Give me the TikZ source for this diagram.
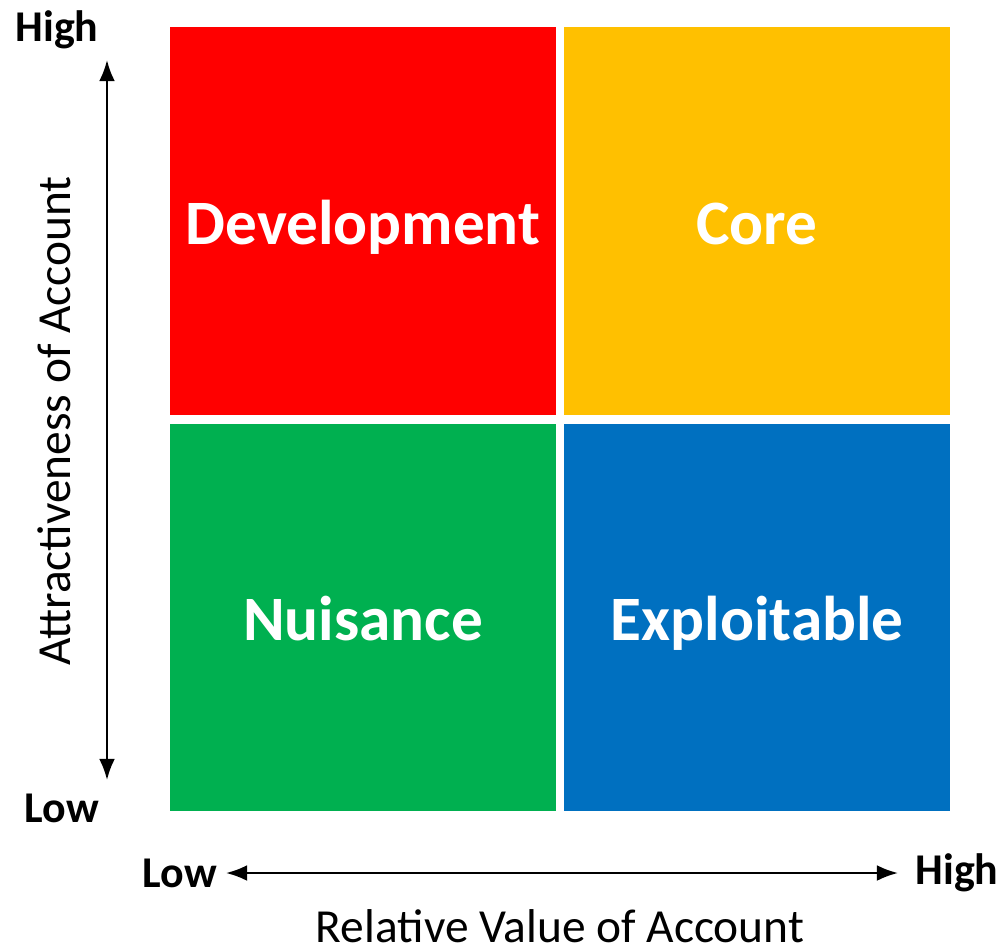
\documentclass[tikz,border=0pt]{standalone}
\usepackage{fontspec}
\setmainfont{Carlito}
\usetikzlibrary{arrows.meta}

\definecolor{devred}{HTML}{FF0000}
\definecolor{coreorange}{HTML}{FFC000}
\definecolor{nuigreen}{HTML}{00B050}
\definecolor{expblue}{HTML}{0070C0}

\tikzset{
  quad/.style={minimum width=7.72cm, minimum height=7.76cm, inner sep=0pt,
    text height=26.5pt, text depth=0pt,
    text=white, font=\fontsize{36}{40}\selectfont\bfseries},
  endlabel/.style={font=\fontsize{25}{28}\selectfont\bfseries},
  axislabel/.style={font=\fontsize{27}{30}\selectfont}
}

\begin{document}
\begin{tikzpicture}[x=0.02cm, y=-0.02cm]
      \useasboundingbox (0, 0) rectangle (1007, 947);

      \draw (363, 221) node [quad, fill=devred] (dev) {Development};
      \draw (757, 221) node [quad, fill=coreorange] (core) {Core};
      \draw (363, 617.5) node [quad, fill=nuigreen] (nui) {Nuisance};
      \draw (757, 617.5) node [quad, fill=expblue] (exp) {Exploitable};

      \draw (57, 30) node [endlabel] (yhigh) {High};
      \draw (62, 808) node [endlabel] (ylow) {Low};
      \draw (180, 873) node [endlabel] (xlow) {Low};
      \draw (957, 873) node [endlabel] (xhigh) {High};

      \coordinate (ytop) at (107, 60);
      \coordinate (ybot) at (107, 780);
      \coordinate (xleft) at (226, 873);
      \coordinate (xright) at (898, 873);
      \draw [{Latex[length=12pt,width=9pt]}-{Latex[length=12pt,width=9pt]}][line width=1.3pt] (ytop) -- (ybot);
      \draw [{Latex[length=12pt,width=9pt]}-{Latex[length=12pt,width=9pt]}][line width=1.3pt] (xleft) -- (xright);

      \draw (54, 421) node [axislabel, rotate=90] (yaxis) {Attractiveness of Account};
      \draw (560, 942) node [axislabel, anchor=base, inner sep=0pt] (xaxis) {Relative Value of Account};
    \end{tikzpicture}
\end{document}
